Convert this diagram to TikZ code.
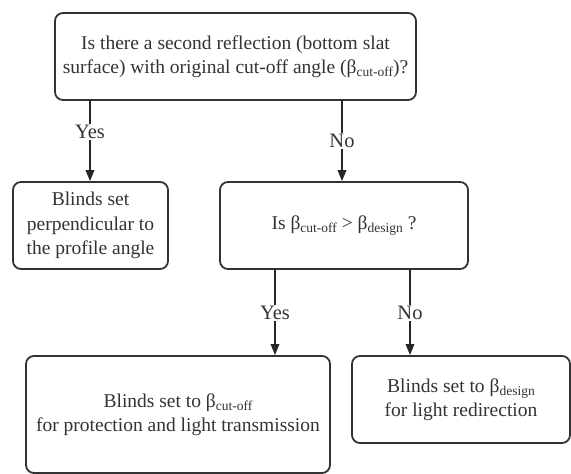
\documentclass[tikz,border=0pt]{standalone}
\usepackage{fontspec}
\setmainfont{Liberation Serif}
\usetikzlibrary{arrows.meta}
\newcommand{\bsub}[1]{β\raisebox{-0.35ex}{\fontsize{13.5}{13.5}\selectfont #1}}
\begin{document}
\begin{tikzpicture}[x=1pt,y=-1pt,
  box/.style={draw=black!80, line width=1.8pt, rounded corners=8pt, align=center,
    inner sep=0pt, text=black!80, font=\fontsize{19.5}{24.5}\selectfont},
  lbl/.style={inner sep=1pt, text=black!80, font=\fontsize{20.5}{22}\selectfont},
  con/.style={draw=black!85, line width=1.6pt},
  arr/.style={con, -{Triangle[length=11pt,width=8.5pt]}}]
\useasboundingbox (0,0) rectangle (571,474);
\node[box, minimum width=361pt, minimum height=87pt] (top) at (235.5,56.5)
  {Is there a second reflection (bottom slat\\surface) with original cut-off angle (\bsub{cut-off})?};
\node[box, minimum width=155pt, minimum height=87pt] (perp) at (90.5,225.5)
  {Blinds set\\perpendicular to\\the profile angle};
\node[box, minimum width=248pt, minimum height=87pt] (mid) at (344,225.5)
  {Is \bsub{cut-off} > \bsub{design} ?};
\node[box, minimum width=304pt, minimum height=117pt] (bl) at (178,414.5)
  {Blinds set to \bsub{cut-off}\\for protection and light transmission};
\node[box, minimum width=218pt, minimum height=87pt] (br) at (461,399.5)
  {Blinds set to \bsub{design}\\for light redirection};
\node[lbl] (y1) at (90,132) {Yes};
\node[lbl] (n1) at (342,141) {No};
\node[lbl] (y2) at (275,313) {Yes};
\node[lbl] (n2) at (410,313) {No};
\coordinate (t1) at (90,100);
\coordinate (t2) at (342,100);
\coordinate (m1) at (275,269);
\coordinate (m2) at (410,269);
\draw[con] (t1) -- (y1.north);
\draw[arr] (y1.south) -- (y1.south |- perp.north);
\draw[con] (t2) -- (n1.north);
\draw[arr] (n1.south) -- (n1.south |- mid.north);
\draw[con] (m1) -- (y2.north);
\draw[arr] (y2.south) -- (y2.south |- bl.north);
\draw[con] (m2) -- (n2.north);
\draw[arr] (n2.south) -- (n2.south |- br.north);
\end{tikzpicture}
\end{document}
